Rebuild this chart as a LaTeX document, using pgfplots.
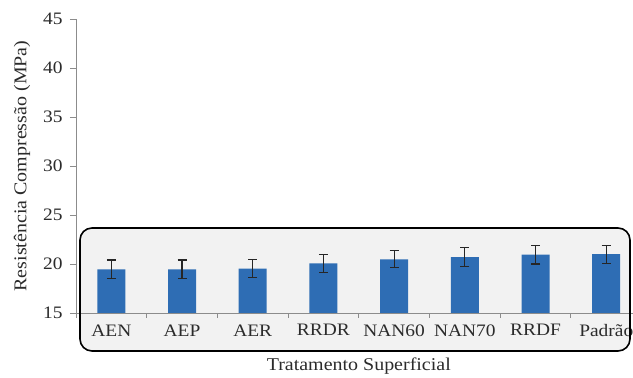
\documentclass[border=0pt]{standalone}
\usepackage{fontspec}
\setmainfont[FakeStretch=1.11]{Liberation Serif}
\usepackage{pgfplots}
\pgfplotsset{compat=1.18}
\definecolor{barblue}{HTML}{2E6DB4}
\definecolor{boxfill}{HTML}{F2F2F2}
\definecolor{txt}{HTML}{2B2B2B}
\definecolor{axgray}{HTML}{8C8C8C}
\begin{document}
\begin{tikzpicture}[trim left=-76pt, trim right=557pt]
\fill[boxfill, rounded corners=12pt] (4pt,-38pt) rectangle (554pt,85pt);
\begin{axis}[
  scale only axis, width=565.6pt, height=294pt,
  xmin=-0.5, xmax=7.5, ymin=15, ymax=45,
  ytick={15,20,...,45},
  xtick={0,...,7},
  xticklabels={AEN,AEP,AER,RRDR,NAN60,NAN70,RRDF,Padrão},
  minor xtick={-0.5,0.5,...,7.5},
  axis lines=left,
  axis line style={-, draw=axgray, line width=0.8pt},
  tick align=outside,
  major tick length=6pt, minor tick length=5pt,
  major x tick style={draw=none},
  minor x tick style={draw=axgray, line width=0.8pt},
  y tick style={draw=axgray, line width=0.8pt},
  tick label style={font=\fontsize{17.5}{21}\selectfont, text=txt},
  /pgf/number format/assume math mode=true,
  xticklabel style={yshift=-2pt},
  yticklabel style={xshift=-4pt},
  label style={font=\fontsize{18}{21}\selectfont, text=txt},
  xlabel={Tratamento Superficial},
  ylabel={Resistência Compressão (MPa)},
  xlabel style={yshift=-14pt},
  ylabel style={yshift=6pt},
]
\addplot[ybar, bar width=28pt, fill=barblue, draw=none,
  error bars/.cd, y dir=both, y explicit,
  error bar style={black!85, line width=1.1pt},
  error mark options={rotate=90, mark size=4.5pt, black!85, line width=1.1pt}]
  table[x=x, y=y, y error=e] {
x y e
0 19.46 0.95
1 19.46 0.95
2 19.52 0.90
3 20.07 0.92
4 20.48 0.88
5 20.71 0.95
6 20.95 0.95
7 21.00 0.92
};
\end{axis}
\draw[black, line width=1.6pt, rounded corners=12pt] (4pt,-38pt) rectangle (554pt,85pt);
\path (-76pt,-63pt) rectangle (557pt,313pt);
\end{tikzpicture}
\end{document}
